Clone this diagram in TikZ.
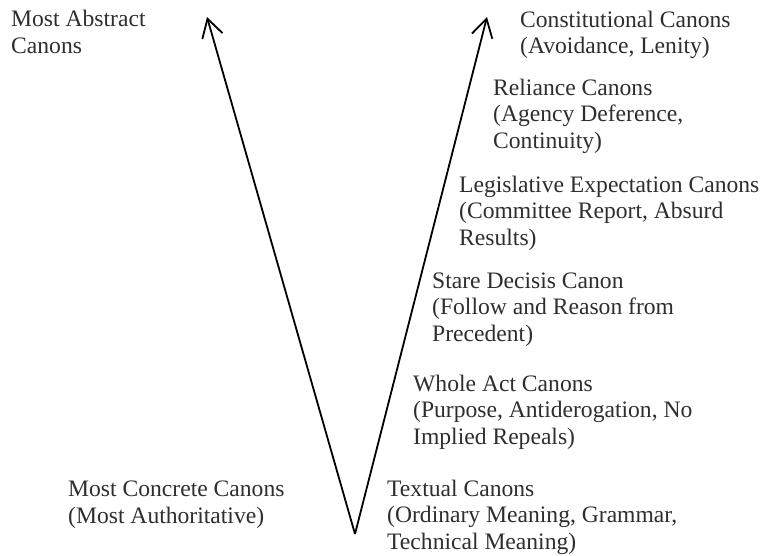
\documentclass[tikz,border=0pt]{standalone}
\usepackage{fontspec}
\setmainfont{Liberation Serif}
\usetikzlibrary{arrows.meta}
\definecolor{ink}{HTML}{2E2E2E}

\begin{document}
\begin{tikzpicture}[x=1pt, y=-1pt,
	canon/.style={anchor=base west, align=left, inner sep=0pt, text=ink,
		font=\fontsize{23.6}{26.5}\selectfont},
	scale arrow/.style={line width=1.8pt, -{Straight Barb[length=18pt, width=21pt]}}]

	\useasboundingbox (0,0) rectangle (769,555);

	% Arrows
	\coordinate (vertex) at (355,534);
	\coordinate (abstract tip) at (207,17);
	\coordinate (constitutional tip) at (487,17);
	\draw[scale arrow] (vertex) -- (abstract tip);
	\draw[scale arrow] (vertex) -- (constitutional tip);

	% Labels (placed at the baseline of their last line)
	\node[canon] (abstract) at (11,53) {Most Abstract\\Canons};
	\node[canon] (concrete) at (68,523) {Most Concrete Canons\\(Most Authoritative)};
	\node[canon] (constitutional) at (520,53.5) {Constitutional Canons\\(Avoidance, Lenity)};
	\node[canon] (reliance) at (493,148) {Reliance Canons\\(Agency Deference,\\Continuity)};
	\node[canon] (legislative) at (459,245) {Legislative Expectation Canons\\(Committee Report, Absurd\\Results)};
	\node[canon] (stare) at (432,341) {Stare Decisis Canon\\(Follow and Reason from\\Precedent)};
	\node[canon] (wholeact) at (413,444) {Whole Act Canons\\(Purpose, Antiderogation, No\\Implied Repeals)};
	\node[canon] (textual) at (387,549) {Textual Canons\\(Ordinary Meaning, Grammar,\\Technical Meaning)};

\end{tikzpicture}
\end{document}
